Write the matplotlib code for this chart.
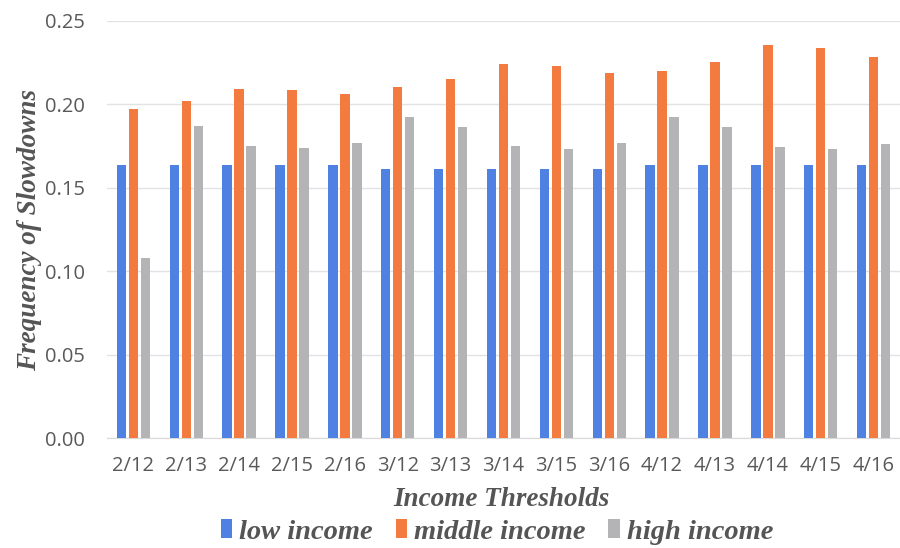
import numpy as np
import matplotlib.pyplot as plt

# income threshold categories
thresholds = ['2/12', '2/13', '2/14', '2/15', '2/16',
              '3/12', '3/13', '3/14', '3/15', '3/16',
              '4/12', '4/13', '4/14', '4/15', '4/16']

low_income = [0.1635, 0.1635, 0.1635, 0.1635, 0.1635,
              0.1615, 0.1615, 0.1615, 0.1615, 0.1615,
              0.1638, 0.1638, 0.1638, 0.1638, 0.1638]
middle_income = [0.1974, 0.2018, 0.2094, 0.2088, 0.2060,
                 0.2104, 0.2152, 0.2242, 0.2230, 0.2188,
                 0.2202, 0.2254, 0.2359, 0.2339, 0.2285]
high_income = [0.1078, 0.1868, 0.1752, 0.1738, 0.1771,
               0.1926, 0.1866, 0.1748, 0.1734, 0.1766,
               0.1924, 0.1862, 0.1747, 0.1733, 0.1765]

series = [('low income', low_income, '#4f81e3'),
          ('middle income', middle_income, '#f47b3f'),
          ('high income', high_income, '#b4b4b7')]

fig = plt.figure(figsize=(9, 5.48), dpi=100)
ax = fig.add_axes([107/900, 1 - 438/548, 793/900, (438 - 21)/548])

x = np.arange(len(thresholds))
w = 0.178
pitch = 0.227
for i, (name, vals, col) in enumerate(series):
    ax.bar(x + (i - 1) * pitch, vals, w, color=col, label=name, zorder=3)

ax.set_xlim(-0.5, len(thresholds) - 0.5)
ax.set_ylim(0, 0.25)
ax.set_yticks(np.arange(0, 0.251, 0.05))
ax.set_yticklabels(['%.2f' % v for v in np.arange(0, 0.251, 0.05)])
ax.set_xticks(x)
ax.set_xticklabels(thresholds)
ax.grid(axis='y', color='#e2e2e2', lw=1, zorder=0)
for s in ['top', 'right', 'left']:
    ax.spines[s].set_visible(False)
ax.spines['bottom'].set_color('#d9d9d9')
ax.tick_params(length=0, labelsize=14.5, colors='#595959')
ax.tick_params(axis='x', pad=13)
ax.tick_params(axis='y', pad=16)
for lab in ax.get_xticklabels() + ax.get_yticklabels():
    lab.set_family('Open Sans')

serif = dict(family='Liberation Serif', weight='bold', style='italic', color='#555555')
fig.text(30/900, 1 - 230/548, 'Frequency of Slowdowns', rotation=90,
         ha='center', va='center', fontsize=19.5, **serif)
fig.text(501/900, 1 - 500/548, 'Income Thresholds', ha='center', va='center',
         fontsize=19.5, **serif)

leg = fig.legend(loc='center', bbox_to_anchor=(497/900, 1 - 532/548), ncol=3,
                 frameon=False, handlelength=0.4, handleheight=0.6,
                 handletextpad=0.25, columnspacing=0.8,
                 prop=dict(family='Liberation Serif', weight='bold',
                           style='italic', size=20.5))
for t in leg.get_texts():
    t.set_color('#555555')

fig.savefig('out.png', dpi=100)
